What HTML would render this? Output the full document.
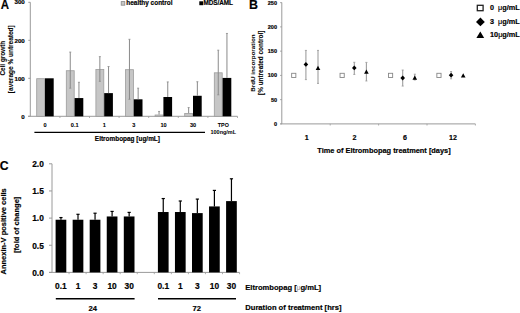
<!DOCTYPE html>
<html><head><meta charset="utf-8"><style>
html,body{margin:0;padding:0;background:#fff;}
body{width:520px;height:313px;overflow:hidden;}
svg{display:block;font-family:"Liberation Sans", sans-serif;}
text{stroke:#000;stroke-width:0.18px;paint-order:stroke;}
</style></head><body>
<svg width="520" height="313" viewBox="0 0 520 313">
<rect width="520" height="313" fill="#fff"/>
<text x="0.80" y="8.60" font-size="12.6" text-anchor="start" font-weight="bold" fill="#000" stroke="#000" stroke-width="0.15" textLength="8.3" lengthAdjust="spacingAndGlyphs">A</text>
<line x1="30.30" y1="2.30" x2="30.30" y2="116.30" stroke="#9a9a9a" stroke-width="1"/>
<line x1="28.00" y1="116.30" x2="237.50" y2="116.30" stroke="#9a9a9a" stroke-width="1"/>
<line x1="28.30" y1="116.30" x2="30.30" y2="116.30" stroke="#9a9a9a" stroke-width="1"/>
<text x="24.80" y="118.50" font-size="6.2" text-anchor="end" font-weight="bold" fill="#000" >0</text>
<line x1="28.30" y1="78.30" x2="30.30" y2="78.30" stroke="#9a9a9a" stroke-width="1"/>
<text x="24.80" y="80.50" font-size="6.2" text-anchor="end" font-weight="bold" fill="#000" >100</text>
<line x1="28.30" y1="40.30" x2="30.30" y2="40.30" stroke="#9a9a9a" stroke-width="1"/>
<text x="24.80" y="42.50" font-size="6.2" text-anchor="end" font-weight="bold" fill="#000" >200</text>
<line x1="28.30" y1="2.30" x2="30.30" y2="2.30" stroke="#9a9a9a" stroke-width="1"/>
<text x="24.80" y="4.00" font-size="6.2" text-anchor="end" font-weight="bold" fill="#000" >300</text>
<line x1="59.90" y1="116.30" x2="59.90" y2="118.00" stroke="#9a9a9a" stroke-width="0.8"/>
<rect x="36.70" y="78.70" width="7.90" height="37.60" fill="#c6c6c6" stroke="#9c9c9c" stroke-width="0.8"/>
<rect x="45.00" y="78.30" width="8.70" height="38.00" fill="#000" stroke="none" stroke-width="0"/>
<text x="45.10" y="127.00" font-size="5.6" text-anchor="middle" font-weight="bold" fill="#000" style="stroke-width:0.08px">0</text>
<line x1="89.50" y1="116.30" x2="89.50" y2="118.00" stroke="#9a9a9a" stroke-width="0.8"/>
<rect x="66.30" y="70.72" width="7.90" height="45.58" fill="#c6c6c6" stroke="#9c9c9c" stroke-width="0.8"/>
<rect x="74.60" y="98.06" width="8.70" height="18.24" fill="#000" stroke="none" stroke-width="0"/>
<line x1="70.25" y1="52.08" x2="70.25" y2="88.18" stroke="#8a8a8a" stroke-width="1.0"/>
<line x1="69.25" y1="52.08" x2="71.25" y2="52.08" stroke="#8a8a8a" stroke-width="0.8"/>
<line x1="69.25" y1="88.18" x2="71.25" y2="88.18" stroke="#8a8a8a" stroke-width="0.8"/>
<line x1="78.95" y1="82.29" x2="78.95" y2="98.06" stroke="#8a8a8a" stroke-width="1.0"/>
<line x1="77.95" y1="82.29" x2="79.95" y2="82.29" stroke="#8a8a8a" stroke-width="0.8"/>
<text x="74.70" y="127.00" font-size="5.6" text-anchor="middle" font-weight="bold" fill="#000" style="stroke-width:0.08px">0.1</text>
<line x1="119.10" y1="116.30" x2="119.10" y2="118.00" stroke="#9a9a9a" stroke-width="0.8"/>
<rect x="95.90" y="69.58" width="7.90" height="46.72" fill="#c6c6c6" stroke="#9c9c9c" stroke-width="0.8"/>
<rect x="104.20" y="93.12" width="8.70" height="23.18" fill="#000" stroke="none" stroke-width="0"/>
<line x1="99.85" y1="56.64" x2="99.85" y2="81.34" stroke="#8a8a8a" stroke-width="1.0"/>
<line x1="98.85" y1="56.64" x2="100.85" y2="56.64" stroke="#8a8a8a" stroke-width="0.8"/>
<line x1="98.85" y1="81.34" x2="100.85" y2="81.34" stroke="#8a8a8a" stroke-width="0.8"/>
<line x1="108.55" y1="66.52" x2="108.55" y2="93.12" stroke="#8a8a8a" stroke-width="1.0"/>
<line x1="107.55" y1="66.52" x2="109.55" y2="66.52" stroke="#8a8a8a" stroke-width="0.8"/>
<text x="104.30" y="127.00" font-size="5.6" text-anchor="middle" font-weight="bold" fill="#000" style="stroke-width:0.08px">1</text>
<line x1="148.70" y1="116.30" x2="148.70" y2="118.00" stroke="#9a9a9a" stroke-width="0.8"/>
<rect x="125.50" y="69.69" width="7.90" height="46.61" fill="#c6c6c6" stroke="#9c9c9c" stroke-width="0.8"/>
<rect x="133.80" y="99.31" width="8.70" height="16.99" fill="#000" stroke="none" stroke-width="0"/>
<line x1="129.45" y1="39.31" x2="129.45" y2="99.31" stroke="#8a8a8a" stroke-width="1.0"/>
<line x1="128.45" y1="39.31" x2="130.45" y2="39.31" stroke="#8a8a8a" stroke-width="0.8"/>
<line x1="128.45" y1="99.31" x2="130.45" y2="99.31" stroke="#8a8a8a" stroke-width="0.8"/>
<line x1="138.15" y1="88.18" x2="138.15" y2="99.31" stroke="#8a8a8a" stroke-width="1.0"/>
<line x1="137.15" y1="88.18" x2="139.15" y2="88.18" stroke="#8a8a8a" stroke-width="0.8"/>
<text x="133.90" y="127.00" font-size="5.6" text-anchor="middle" font-weight="bold" fill="#000" style="stroke-width:0.08px">3</text>
<line x1="178.30" y1="116.30" x2="178.30" y2="118.00" stroke="#9a9a9a" stroke-width="0.8"/>
<rect x="155.10" y="114.99" width="7.90" height="1.31" fill="#c6c6c6" stroke="#9c9c9c" stroke-width="0.8"/>
<rect x="163.40" y="97.00" width="8.70" height="19.30" fill="#000" stroke="none" stroke-width="0"/>
<line x1="159.05" y1="111.44" x2="159.05" y2="114.59" stroke="#8a8a8a" stroke-width="1.0"/>
<line x1="158.05" y1="111.44" x2="160.05" y2="111.44" stroke="#8a8a8a" stroke-width="0.8"/>
<line x1="167.75" y1="81.91" x2="167.75" y2="97.00" stroke="#8a8a8a" stroke-width="1.0"/>
<line x1="166.75" y1="81.91" x2="168.75" y2="81.91" stroke="#8a8a8a" stroke-width="0.8"/>
<text x="163.50" y="127.00" font-size="5.6" text-anchor="middle" font-weight="bold" fill="#000" style="stroke-width:0.08px">10</text>
<line x1="207.90" y1="116.30" x2="207.90" y2="118.00" stroke="#9a9a9a" stroke-width="0.8"/>
<rect x="184.70" y="113.51" width="7.90" height="2.79" fill="#c6c6c6" stroke="#9c9c9c" stroke-width="0.8"/>
<rect x="193.00" y="95.78" width="8.70" height="20.52" fill="#000" stroke="none" stroke-width="0"/>
<line x1="188.65" y1="107.56" x2="188.65" y2="113.11" stroke="#8a8a8a" stroke-width="1.0"/>
<line x1="187.65" y1="107.56" x2="189.65" y2="107.56" stroke="#8a8a8a" stroke-width="0.8"/>
<line x1="197.35" y1="81.72" x2="197.35" y2="95.78" stroke="#8a8a8a" stroke-width="1.0"/>
<line x1="196.35" y1="81.72" x2="198.35" y2="81.72" stroke="#8a8a8a" stroke-width="0.8"/>
<text x="193.10" y="127.00" font-size="5.6" text-anchor="middle" font-weight="bold" fill="#000" style="stroke-width:0.08px">30</text>
<line x1="237.50" y1="116.30" x2="237.50" y2="118.00" stroke="#9a9a9a" stroke-width="0.8"/>
<rect x="214.30" y="72.81" width="7.90" height="43.49" fill="#c6c6c6" stroke="#9c9c9c" stroke-width="0.8"/>
<rect x="222.60" y="77.92" width="8.70" height="38.38" fill="#000" stroke="none" stroke-width="0"/>
<line x1="218.25" y1="50.18" x2="218.25" y2="94.83" stroke="#8a8a8a" stroke-width="1.0"/>
<line x1="217.25" y1="50.18" x2="219.25" y2="50.18" stroke="#8a8a8a" stroke-width="0.8"/>
<line x1="217.25" y1="94.83" x2="219.25" y2="94.83" stroke="#8a8a8a" stroke-width="0.8"/>
<line x1="226.95" y1="33.46" x2="226.95" y2="77.92" stroke="#8a8a8a" stroke-width="1.0"/>
<line x1="225.95" y1="33.46" x2="227.95" y2="33.46" stroke="#8a8a8a" stroke-width="0.8"/>
<text x="222.70" y="127.00" font-size="5.6" text-anchor="middle" font-weight="bold" fill="#000" style="stroke-width:0.08px"></text>
<text x="223.30" y="126.60" font-size="5.4" text-anchor="middle" font-weight="bold" fill="#000" textLength="11" lengthAdjust="spacingAndGlyphs" style="stroke-width:0.06px">TPO</text>
<text x="223.30" y="134.00" font-size="5.9" text-anchor="middle" font-weight="bold" fill="#000" textLength="25.6" lengthAdjust="spacingAndGlyphs" style="stroke:none">100ng/mL</text>
<line x1="34.40" y1="132.40" x2="205.00" y2="132.40" stroke="#000" stroke-width="1.4"/>
<text x="127.40" y="141.30" font-size="6.45" text-anchor="middle" font-weight="bold" fill="#000" >Eltrombopag [ug/mL]</text>
<rect x="121.20" y="1.60" width="3.60" height="3.60" fill="#c6c6c6" stroke="#888" stroke-width="0.8"/>
<text x="126.30" y="5.30" font-size="6.45" text-anchor="start" font-weight="bold" fill="#000" >healthy control</text>
<rect x="199.30" y="1.30" width="3.90" height="3.90" fill="#000" stroke="none" stroke-width="0"/>
<text x="203.40" y="5.40" font-size="6.35" text-anchor="start" font-weight="bold" fill="#000" >MDS/AML</text>
<g transform="translate(4.6,58.2) rotate(-90)">
<text x="0.00" y="0.00" font-size="6.4" text-anchor="middle" font-weight="bold" fill="#000" style="stroke-width:0.08px">Cell growth</text>
</g>
<g transform="translate(13.4,59.2) rotate(-90)">
<text x="0.00" y="0.00" font-size="6.5" text-anchor="middle" font-weight="bold" fill="#000" style="stroke-width:0.08px">[average % untreated]</text>
</g>
<text x="249.00" y="8.60" font-size="12.4" text-anchor="start" font-weight="bold" fill="#000" stroke="#000" stroke-width="0.15">B</text>
<line x1="281.80" y1="2.50" x2="281.80" y2="123.90" stroke="#9a9a9a" stroke-width="1"/>
<line x1="280.30" y1="123.90" x2="475.40" y2="123.90" stroke="#9a9a9a" stroke-width="1"/>
<line x1="280.20" y1="123.90" x2="281.80" y2="123.90" stroke="#9a9a9a" stroke-width="1"/>
<text x="277.00" y="125.80" font-size="5.5" text-anchor="end" font-weight="bold" fill="#000" >0</text>
<line x1="280.20" y1="99.65" x2="281.80" y2="99.65" stroke="#9a9a9a" stroke-width="1"/>
<text x="277.00" y="101.55" font-size="5.5" text-anchor="end" font-weight="bold" fill="#000" >50</text>
<line x1="280.20" y1="75.40" x2="281.80" y2="75.40" stroke="#9a9a9a" stroke-width="1"/>
<text x="277.00" y="77.30" font-size="5.5" text-anchor="end" font-weight="bold" fill="#000" >100</text>
<line x1="280.20" y1="51.15" x2="281.80" y2="51.15" stroke="#9a9a9a" stroke-width="1"/>
<text x="277.00" y="53.05" font-size="5.5" text-anchor="end" font-weight="bold" fill="#000" >150</text>
<line x1="280.20" y1="26.90" x2="281.80" y2="26.90" stroke="#9a9a9a" stroke-width="1"/>
<text x="277.00" y="28.80" font-size="5.5" text-anchor="end" font-weight="bold" fill="#000" >200</text>
<line x1="280.20" y1="2.65" x2="281.80" y2="2.65" stroke="#9a9a9a" stroke-width="1"/>
<text x="277.00" y="4.55" font-size="5.5" text-anchor="end" font-weight="bold" fill="#000" >250</text>
<line x1="330.20" y1="123.90" x2="330.20" y2="125.50" stroke="#9a9a9a" stroke-width="0.8"/>
<text x="306.80" y="139.80" font-size="7.1" text-anchor="middle" font-weight="bold" fill="#000" >1</text>
<rect x="291.65" y="73.30" width="4.20" height="4.20" fill="#fff" stroke="#888" stroke-width="0.9"/>
<line x1="305.90" y1="50.42" x2="305.90" y2="79.62" stroke="#9e9e9e" stroke-width="1.1"/>
<line x1="304.90" y1="50.42" x2="306.90" y2="50.42" stroke="#9e9e9e" stroke-width="0.9"/>
<line x1="304.90" y1="79.62" x2="306.90" y2="79.62" stroke="#9e9e9e" stroke-width="0.9"/>
<path d="M305.90 61.99 L308.20 64.39 L305.90 66.79 L303.60 64.39 Z" fill="#000"/>
<line x1="318.00" y1="50.42" x2="318.00" y2="83.40" stroke="#9e9e9e" stroke-width="1.1"/>
<line x1="317.00" y1="50.42" x2="319.00" y2="50.42" stroke="#9e9e9e" stroke-width="0.9"/>
<line x1="317.00" y1="83.40" x2="319.00" y2="83.40" stroke="#9e9e9e" stroke-width="0.9"/>
<path d="M318.00 65.72 L320.30 69.92 L315.70 69.92 Z" fill="#000"/>
<line x1="378.60" y1="123.90" x2="378.60" y2="125.50" stroke="#9a9a9a" stroke-width="0.8"/>
<text x="354.60" y="139.80" font-size="7.1" text-anchor="middle" font-weight="bold" fill="#000" >2</text>
<rect x="340.05" y="73.30" width="4.20" height="4.20" fill="#fff" stroke="#888" stroke-width="0.9"/>
<line x1="354.30" y1="62.31" x2="354.30" y2="74.43" stroke="#9e9e9e" stroke-width="1.1"/>
<line x1="353.30" y1="62.31" x2="355.30" y2="62.31" stroke="#9e9e9e" stroke-width="0.9"/>
<line x1="353.30" y1="74.43" x2="355.30" y2="74.43" stroke="#9e9e9e" stroke-width="0.9"/>
<path d="M354.30 65.48 L356.60 67.88 L354.30 70.28 L352.00 67.88 Z" fill="#000"/>
<line x1="366.40" y1="62.40" x2="366.40" y2="80.98" stroke="#9e9e9e" stroke-width="1.1"/>
<line x1="365.40" y1="62.40" x2="367.40" y2="62.40" stroke="#9e9e9e" stroke-width="0.9"/>
<line x1="365.40" y1="80.98" x2="367.40" y2="80.98" stroke="#9e9e9e" stroke-width="0.9"/>
<path d="M366.40 69.61 L368.70 73.81 L364.10 73.81 Z" fill="#000"/>
<line x1="427.00" y1="123.90" x2="427.00" y2="125.50" stroke="#9a9a9a" stroke-width="0.8"/>
<text x="405.00" y="139.80" font-size="7.1" text-anchor="middle" font-weight="bold" fill="#000" >6</text>
<rect x="388.45" y="73.30" width="4.20" height="4.20" fill="#fff" stroke="#888" stroke-width="0.9"/>
<line x1="402.70" y1="70.06" x2="402.70" y2="86.07" stroke="#9e9e9e" stroke-width="1.1"/>
<line x1="401.70" y1="70.06" x2="403.70" y2="70.06" stroke="#9e9e9e" stroke-width="0.9"/>
<line x1="401.70" y1="86.07" x2="403.70" y2="86.07" stroke="#9e9e9e" stroke-width="0.9"/>
<path d="M402.70 75.62 L405.00 78.02 L402.70 80.42 L400.40 78.02 Z" fill="#000"/>
<line x1="414.80" y1="74.19" x2="414.80" y2="80.01" stroke="#9e9e9e" stroke-width="1.1"/>
<line x1="413.80" y1="74.19" x2="415.80" y2="74.19" stroke="#9e9e9e" stroke-width="0.9"/>
<line x1="413.80" y1="80.01" x2="415.80" y2="80.01" stroke="#9e9e9e" stroke-width="0.9"/>
<path d="M414.80 75.43 L417.10 79.63 L412.50 79.63 Z" fill="#000"/>
<line x1="475.40" y1="123.90" x2="475.40" y2="125.50" stroke="#9a9a9a" stroke-width="0.8"/>
<text x="453.00" y="139.80" font-size="7.1" text-anchor="middle" font-weight="bold" fill="#000" >12</text>
<rect x="436.85" y="73.30" width="4.20" height="4.20" fill="#fff" stroke="#888" stroke-width="0.9"/>
<line x1="451.10" y1="71.52" x2="451.10" y2="78.80" stroke="#9e9e9e" stroke-width="1.1"/>
<line x1="450.10" y1="71.52" x2="452.10" y2="71.52" stroke="#9e9e9e" stroke-width="0.9"/>
<line x1="450.10" y1="78.80" x2="452.10" y2="78.80" stroke="#9e9e9e" stroke-width="0.9"/>
<path d="M451.10 72.81 L453.40 75.21 L451.10 77.61 L448.80 75.21 Z" fill="#000"/>
<path d="M463.20 73.29 L465.50 77.49 L460.90 77.49 Z" fill="#000"/>
<text x="384.00" y="153.40" font-size="7.4" text-anchor="middle" font-weight="bold" fill="#000" >Time of Eltrombopag treatment [days]</text>
<g transform="translate(254.6,63) rotate(-90)">
<text x="0.00" y="0.00" font-size="6.25" text-anchor="middle" font-weight="bold" fill="#000" style="stroke-width:0.06px">BrdU incorporation</text>
</g>
<g transform="translate(262.6,62.8) rotate(-90)">
<text x="0.00" y="0.00" font-size="6.4" text-anchor="middle" font-weight="bold" fill="#000" style="stroke-width:0.1px">[% untreated control]</text>
</g>
<rect x="477.30" y="5.30" width="5.80" height="5.40" fill="#fff" stroke="#222" stroke-width="1.3"/>
<text x="490.00" y="10.40" font-size="7.2" text-anchor="start" font-weight="bold" fill="#000" >0</text>
<text x="498.00" y="10.30" font-size="7.3" text-anchor="start" font-weight="bold" fill="#000" ><tspan font-weight="normal">μ</tspan>g/mL</text>
<path d="M480.4 17.5 L484.8 21.9 L480.4 26.3 L476 21.9 Z" fill="#000"/>
<text x="490.00" y="24.20" font-size="7.2" text-anchor="start" font-weight="bold" fill="#000" >3</text>
<text x="498.00" y="24.00" font-size="7.3" text-anchor="start" font-weight="bold" fill="#000" ><tspan font-weight="normal">μ</tspan>g/mL</text>
<path d="M480.3 31.6 L484.2 37.9 L476.4 37.9 Z" fill="#000"/>
<text x="490.00" y="37.40" font-size="7.3" text-anchor="start" font-weight="bold" fill="#000" >10<tspan font-weight="normal">μ</tspan>g/mL</text>
<text x="-0.30" y="169.60" font-size="13" text-anchor="start" font-weight="bold" fill="#000" stroke="#000" stroke-width="0.15" textLength="8.8" lengthAdjust="spacingAndGlyphs">C</text>
<line x1="52.00" y1="163.80" x2="52.00" y2="272.40" stroke="#9a9a9a" stroke-width="1"/>
<line x1="49.00" y1="272.40" x2="239.55" y2="272.40" stroke="#9a9a9a" stroke-width="1"/>
<line x1="49.00" y1="272.40" x2="52.00" y2="272.40" stroke="#9a9a9a" stroke-width="1"/>
<text x="43.80" y="275.70" font-size="8.4" text-anchor="end" font-weight="bold" fill="#000" >0.0</text>
<line x1="49.00" y1="245.25" x2="52.00" y2="245.25" stroke="#9a9a9a" stroke-width="1"/>
<text x="43.80" y="248.55" font-size="8.4" text-anchor="end" font-weight="bold" fill="#000" >0.5</text>
<line x1="49.00" y1="218.10" x2="52.00" y2="218.10" stroke="#9a9a9a" stroke-width="1"/>
<text x="43.80" y="221.40" font-size="8.4" text-anchor="end" font-weight="bold" fill="#000" >1.0</text>
<line x1="49.00" y1="190.95" x2="52.00" y2="190.95" stroke="#9a9a9a" stroke-width="1"/>
<text x="43.80" y="194.25" font-size="8.4" text-anchor="end" font-weight="bold" fill="#000" >1.5</text>
<line x1="49.00" y1="163.80" x2="52.00" y2="163.80" stroke="#9a9a9a" stroke-width="1"/>
<text x="43.80" y="167.10" font-size="8.4" text-anchor="end" font-weight="bold" fill="#000" >2.0</text>
<line x1="69.05" y1="272.40" x2="69.05" y2="274.20" stroke="#9a9a9a" stroke-width="0.8"/>
<rect x="55.60" y="219.73" width="10.70" height="52.67" fill="#000" stroke="none" stroke-width="0"/>
<line x1="60.95" y1="217.56" x2="60.95" y2="219.73" stroke="#000" stroke-width="1.2"/>
<line x1="59.35" y1="217.56" x2="62.55" y2="217.56" stroke="#000" stroke-width="1.2"/>
<text x="60.95" y="289.20" font-size="8.4" text-anchor="middle" font-weight="bold" fill="#000" >0.1</text>
<line x1="86.10" y1="272.40" x2="86.10" y2="274.20" stroke="#9a9a9a" stroke-width="0.8"/>
<rect x="72.65" y="219.73" width="10.70" height="52.67" fill="#000" stroke="none" stroke-width="0"/>
<line x1="78.00" y1="214.30" x2="78.00" y2="219.73" stroke="#000" stroke-width="1.2"/>
<line x1="76.40" y1="214.30" x2="79.60" y2="214.30" stroke="#000" stroke-width="1.2"/>
<text x="78.00" y="289.20" font-size="8.4" text-anchor="middle" font-weight="bold" fill="#000" >1</text>
<line x1="103.15" y1="272.40" x2="103.15" y2="274.20" stroke="#9a9a9a" stroke-width="0.8"/>
<rect x="89.70" y="219.73" width="10.70" height="52.67" fill="#000" stroke="none" stroke-width="0"/>
<line x1="95.05" y1="213.21" x2="95.05" y2="219.73" stroke="#000" stroke-width="1.2"/>
<line x1="93.45" y1="213.21" x2="96.65" y2="213.21" stroke="#000" stroke-width="1.2"/>
<text x="95.05" y="289.20" font-size="8.4" text-anchor="middle" font-weight="bold" fill="#000" >3</text>
<line x1="120.20" y1="272.40" x2="120.20" y2="274.20" stroke="#9a9a9a" stroke-width="0.8"/>
<rect x="106.75" y="216.47" width="10.70" height="55.93" fill="#000" stroke="none" stroke-width="0"/>
<line x1="112.10" y1="211.42" x2="112.10" y2="216.47" stroke="#000" stroke-width="1.2"/>
<line x1="110.50" y1="211.42" x2="113.70" y2="211.42" stroke="#000" stroke-width="1.2"/>
<text x="112.10" y="289.20" font-size="8.4" text-anchor="middle" font-weight="bold" fill="#000" >10</text>
<line x1="137.25" y1="272.40" x2="137.25" y2="274.20" stroke="#9a9a9a" stroke-width="0.8"/>
<rect x="123.80" y="216.47" width="10.70" height="55.93" fill="#000" stroke="none" stroke-width="0"/>
<line x1="129.15" y1="212.40" x2="129.15" y2="216.47" stroke="#000" stroke-width="1.2"/>
<line x1="127.55" y1="212.40" x2="130.75" y2="212.40" stroke="#000" stroke-width="1.2"/>
<text x="129.15" y="289.20" font-size="8.4" text-anchor="middle" font-weight="bold" fill="#000" >30</text>
<line x1="154.30" y1="272.40" x2="154.30" y2="274.20" stroke="#9a9a9a" stroke-width="0.8"/>
<line x1="171.35" y1="272.40" x2="171.35" y2="274.20" stroke="#9a9a9a" stroke-width="0.8"/>
<rect x="157.90" y="212.02" width="10.70" height="60.38" fill="#000" stroke="none" stroke-width="0"/>
<line x1="163.25" y1="198.55" x2="163.25" y2="212.02" stroke="#000" stroke-width="1.2"/>
<line x1="161.65" y1="198.55" x2="164.85" y2="198.55" stroke="#000" stroke-width="1.2"/>
<text x="163.25" y="289.20" font-size="8.4" text-anchor="middle" font-weight="bold" fill="#000" >0.1</text>
<line x1="188.40" y1="272.40" x2="188.40" y2="274.20" stroke="#9a9a9a" stroke-width="0.8"/>
<rect x="174.95" y="212.02" width="10.70" height="60.38" fill="#000" stroke="none" stroke-width="0"/>
<line x1="180.30" y1="201.00" x2="180.30" y2="212.02" stroke="#000" stroke-width="1.2"/>
<line x1="178.70" y1="201.00" x2="181.90" y2="201.00" stroke="#000" stroke-width="1.2"/>
<text x="180.30" y="289.20" font-size="8.4" text-anchor="middle" font-weight="bold" fill="#000" >1</text>
<line x1="205.45" y1="272.40" x2="205.45" y2="274.20" stroke="#9a9a9a" stroke-width="0.8"/>
<rect x="192.00" y="213.10" width="10.70" height="59.30" fill="#000" stroke="none" stroke-width="0"/>
<line x1="197.35" y1="199.09" x2="197.35" y2="213.10" stroke="#000" stroke-width="1.2"/>
<line x1="195.75" y1="199.09" x2="198.95" y2="199.09" stroke="#000" stroke-width="1.2"/>
<text x="197.35" y="289.20" font-size="8.4" text-anchor="middle" font-weight="bold" fill="#000" >3</text>
<line x1="222.50" y1="272.40" x2="222.50" y2="274.20" stroke="#9a9a9a" stroke-width="0.8"/>
<rect x="209.05" y="206.43" width="10.70" height="65.97" fill="#000" stroke="none" stroke-width="0"/>
<line x1="214.40" y1="190.41" x2="214.40" y2="206.43" stroke="#000" stroke-width="1.2"/>
<line x1="212.80" y1="190.41" x2="216.00" y2="190.41" stroke="#000" stroke-width="1.2"/>
<text x="214.40" y="289.20" font-size="8.4" text-anchor="middle" font-weight="bold" fill="#000" >10</text>
<line x1="239.55" y1="272.40" x2="239.55" y2="274.20" stroke="#9a9a9a" stroke-width="0.8"/>
<rect x="226.10" y="201.10" width="10.70" height="71.30" fill="#000" stroke="none" stroke-width="0"/>
<line x1="231.45" y1="178.79" x2="231.45" y2="201.10" stroke="#000" stroke-width="1.2"/>
<line x1="229.85" y1="178.79" x2="233.05" y2="178.79" stroke="#000" stroke-width="1.2"/>
<text x="231.45" y="289.20" font-size="8.4" text-anchor="middle" font-weight="bold" fill="#000" >30</text>
<line x1="55.80" y1="298.80" x2="134.60" y2="298.80" stroke="#000" stroke-width="1.5"/>
<line x1="158.00" y1="298.80" x2="236.00" y2="298.80" stroke="#000" stroke-width="1.5"/>
<text x="92.70" y="311.30" font-size="7.6" text-anchor="middle" font-weight="bold" fill="#000" >24</text>
<text x="196.70" y="311.30" font-size="7.6" text-anchor="middle" font-weight="bold" fill="#000" >72</text>
<text x="245.30" y="289.80" font-size="7.6" text-anchor="start" font-weight="bold" fill="#000" >Eltrombopag [<tspan font-weight="normal" fill="#888" style="stroke:none" font-size="6.4">μ</tspan>g/mL]</text>
<text x="245.30" y="310.40" font-size="7.6" text-anchor="start" font-weight="bold" fill="#000" >Duration of treatment [hrs]</text>
<g transform="translate(6.2,231.4) rotate(-90)">
<text x="0.00" y="0.00" font-size="7.5" text-anchor="middle" font-weight="bold" fill="#000" >Annexin-V positive cells</text>
</g>
<g transform="translate(19.4,224.8) rotate(-90)">
<text x="0.00" y="0.00" font-size="7.5" text-anchor="middle" font-weight="bold" fill="#000" >[fold of change]</text>
</g>
</svg>
</body></html>
